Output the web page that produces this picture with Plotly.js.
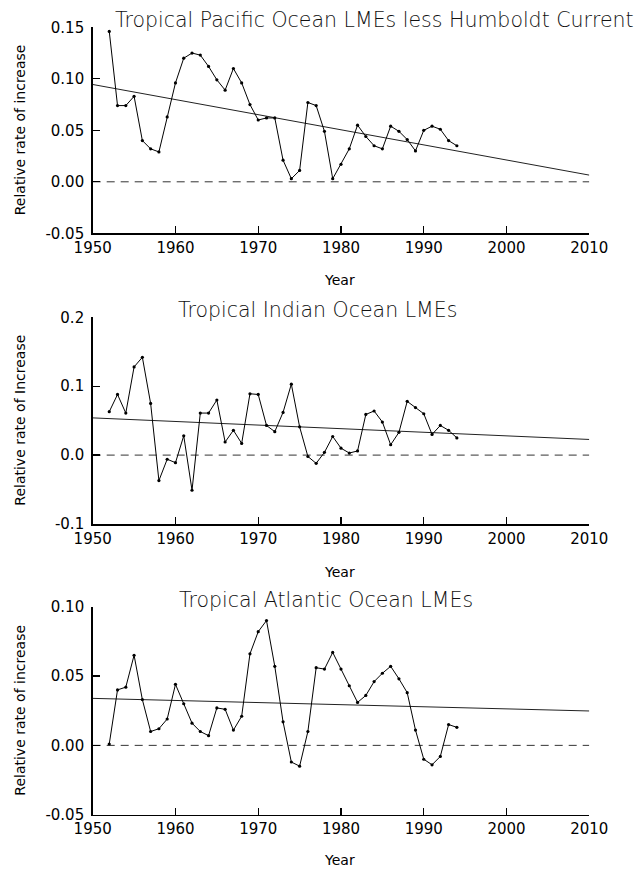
<!DOCTYPE html>
<html>
<head>
<meta charset="utf-8">
<script src="https://cdn.plot.ly/plotly-3.0.1.min.js"></script>
<style>html,body{margin:0;padding:0;background:#fff;}#chart{width:639px;height:870px;}</style>
</head>
<body>
<div id="chart"></div>
<script>
// ---- data ----
const years = [1952,1953,1954,1955,1956,1957,1958,1959,1960,1961,1962,1963,1964,1965,1966,1967,1968,1969,1970,1971,1972,1973,1974,1975,1976,1977,1978,1979,1980,1981,1982,1983,1984,1985,1986,1987,1988,1989,1990,1991,1992,1993,1994];

const pacific = [0.146,0.074,0.074,0.083,0.040,0.032,0.029,0.063,0.096,0.120,0.125,0.123,0.112,0.099,0.089,0.110,0.096,0.075,0.060,0.062,0.062,0.021,0.003,0.011,0.077,0.074,0.049,0.003,0.017,0.032,0.055,0.044,0.035,0.032,0.054,0.049,0.041,0.030,0.050,0.054,0.051,0.040,0.035];

const indian = [0.063,0.088,0.061,0.128,0.142,0.075,-0.037,-0.006,-0.011,0.028,-0.051,0.061,0.061,0.080,0.019,0.036,0.017,0.089,0.088,0.043,0.034,0.062,0.103,0.041,-0.002,-0.012,0.004,0.027,0.010,0.003,0.006,0.059,0.064,0.048,0.015,0.033,0.078,0.069,0.060,0.030,0.043,0.036,0.025];

const atlantic = [0.001,0.040,0.042,0.065,0.033,0.010,0.012,0.019,0.044,0.030,0.016,0.010,0.007,0.027,0.026,0.011,0.021,0.066,0.082,0.090,0.057,0.017,-0.012,-0.015,0.010,0.056,0.055,0.067,0.055,0.043,0.031,0.036,0.046,0.052,0.057,0.048,0.038,0.011,-0.010,-0.014,-0.008,0.015,0.013];

const trendYears = [1950, 2010];
const pacificTrend = [0.0945, 0.0065];
const indianTrend = [0.054, 0.0227];
const atlanticTrend = [0.0339, 0.0248];
const zeroYears = [1950, 2010];
const zeroValues = [0, 0];

const xTicks = [1950,1960,1970,1980,1990,2000,2010];
const pacificTicks = [-0.05,0,0.05,0.10,0.15];
const pacificTickText = ['-0.05','0.00','0.05','0.10','0.15'];
const indianTicks = [-0.1,0,0.1,0.2];
const indianTickText = ['-0.1','0.0','0.1','0.2'];
const atlanticTicks = [-0.05,0,0.05,0.10];
const atlanticTickText = ['-0.05','0.00','0.05','0.10'];

const titles = ['Tropical Pacific Ocean LMEs less Humboldt Current','Tropical Indian Ocean LMEs','Tropical Atlantic Ocean LMEs'];
const yTitles = ['Relative rate of increase','Relative rate of Increase','Relative rate of increase'];
const xTitle = 'Year';

// ---- build ----
const FONT = 'DejaVu Sans, Arial, sans-serif';
const panels = [
  {vals: pacific, trend: pacificTrend, ax: ''},
  {vals: indian, trend: indianTrend, ax: '2'},
  {vals: atlantic, trend: atlanticTrend, ax: '3'}
];
const traces = [];
panels.forEach(p => {
  const xa = 'x' + p.ax, ya = 'y' + p.ax;
  traces.push({x: zeroYears, y: zeroValues, xaxis: xa, yaxis: ya, mode: 'lines',
    line: {color: '#333', width: 1, dash: '8px,6px'}, hoverinfo: 'skip'});
  traces.push({x: trendYears, y: p.trend, xaxis: xa, yaxis: ya, mode: 'lines',
    line: {color: '#222', width: 1}, hoverinfo: 'skip'});
  traces.push({x: years, y: p.vals, xaxis: xa, yaxis: ya, mode: 'lines+markers',
    line: {color: '#000', width: 1}, marker: {color: '#000', size: 3.2}});
});

const W = 639, H = 870;
const xDom = [92.7 / W, 589.3 / W];
function yDom(top, bottom) { return [1 - bottom / H, 1 - top / H]; }

function xAxis(anchor) {
  return {domain: xDom, range: [1950, 2010], anchor: anchor, tickvals: xTicks,
    ticks: 'inside', ticklen: 7, tickwidth: 1.3, tickcolor: '#000',
    showline: true, linecolor: '#000', linewidth: 1.5, showgrid: false, zeroline: false,
    tickfont: {family: FONT, size: 15, color: '#000'}, fixedrange: true};
}
function yAxis(anchor, dom, range, tv, tt) {
  return {domain: dom, range: range, anchor: anchor, tickvals: tv, ticktext: tt,
    ticks: 'inside', ticklen: 7, tickwidth: 1.3, tickcolor: '#000',
    showline: true, linecolor: '#000', linewidth: 1.5, showgrid: false, zeroline: false,
    ticklabelstandoff: 4,
    tickfont: {family: FONT, size: 15, color: '#000'}, fixedrange: true};
}

const titleFont = {family: FONT, size: 20.5, color: '#111', weight: 300};
const labFont = {family: FONT, size: 14, color: '#000'};
const annotations = [
  {text: titles[0], x: 374 / W, y: 1 - 20 / H},
  {text: titles[1], x: 317 / W, y: 1 - 310 / H},
  {text: titles[2], x: 326 / W, y: 1 - 600 / H}
].map(a => Object.assign(a, {xref: 'paper', yref: 'paper', showarrow: false, font: titleFont, xanchor: 'center', yanchor: 'middle'}));

[[130.3, 280], [420.7, 572], [710.7, 860]].forEach((c, i) => {
  annotations.push({text: yTitles[i], x: 20 / W, y: 1 - c[0] / H, xref: 'paper', yref: 'paper',
    textangle: -90, showarrow: false, font: labFont, xanchor: 'center', yanchor: 'middle'});
  annotations.push({text: xTitle, x: 339 / W, y: 1 - c[1] / H, xref: 'paper', yref: 'paper',
    showarrow: false, font: labFont, xanchor: 'center', yanchor: 'middle'});
});

const layout = {
  width: W, height: H, margin: {l: 0, r: 0, t: 0, b: 0},
  paper_bgcolor: '#fff', plot_bgcolor: '#fff', showlegend: false,
  xaxis: xAxis('y'), yaxis: yAxis('x', yDom(27.3, 233.3), [-0.05, 0.15], pacificTicks, pacificTickText),
  xaxis2: xAxis('y2'), yaxis2: yAxis('x2', yDom(317.3, 524), [-0.1, 0.2], indianTicks, indianTickText),
  xaxis3: xAxis('y3'), yaxis3: yAxis('x3', yDom(606.7, 814.7), [-0.05, 0.10], atlanticTicks, atlanticTickText),
  annotations: annotations
};

Plotly.newPlot('chart', traces, layout, {staticPlot: true, displayModeBar: false});
</script>
</body>
</html>
